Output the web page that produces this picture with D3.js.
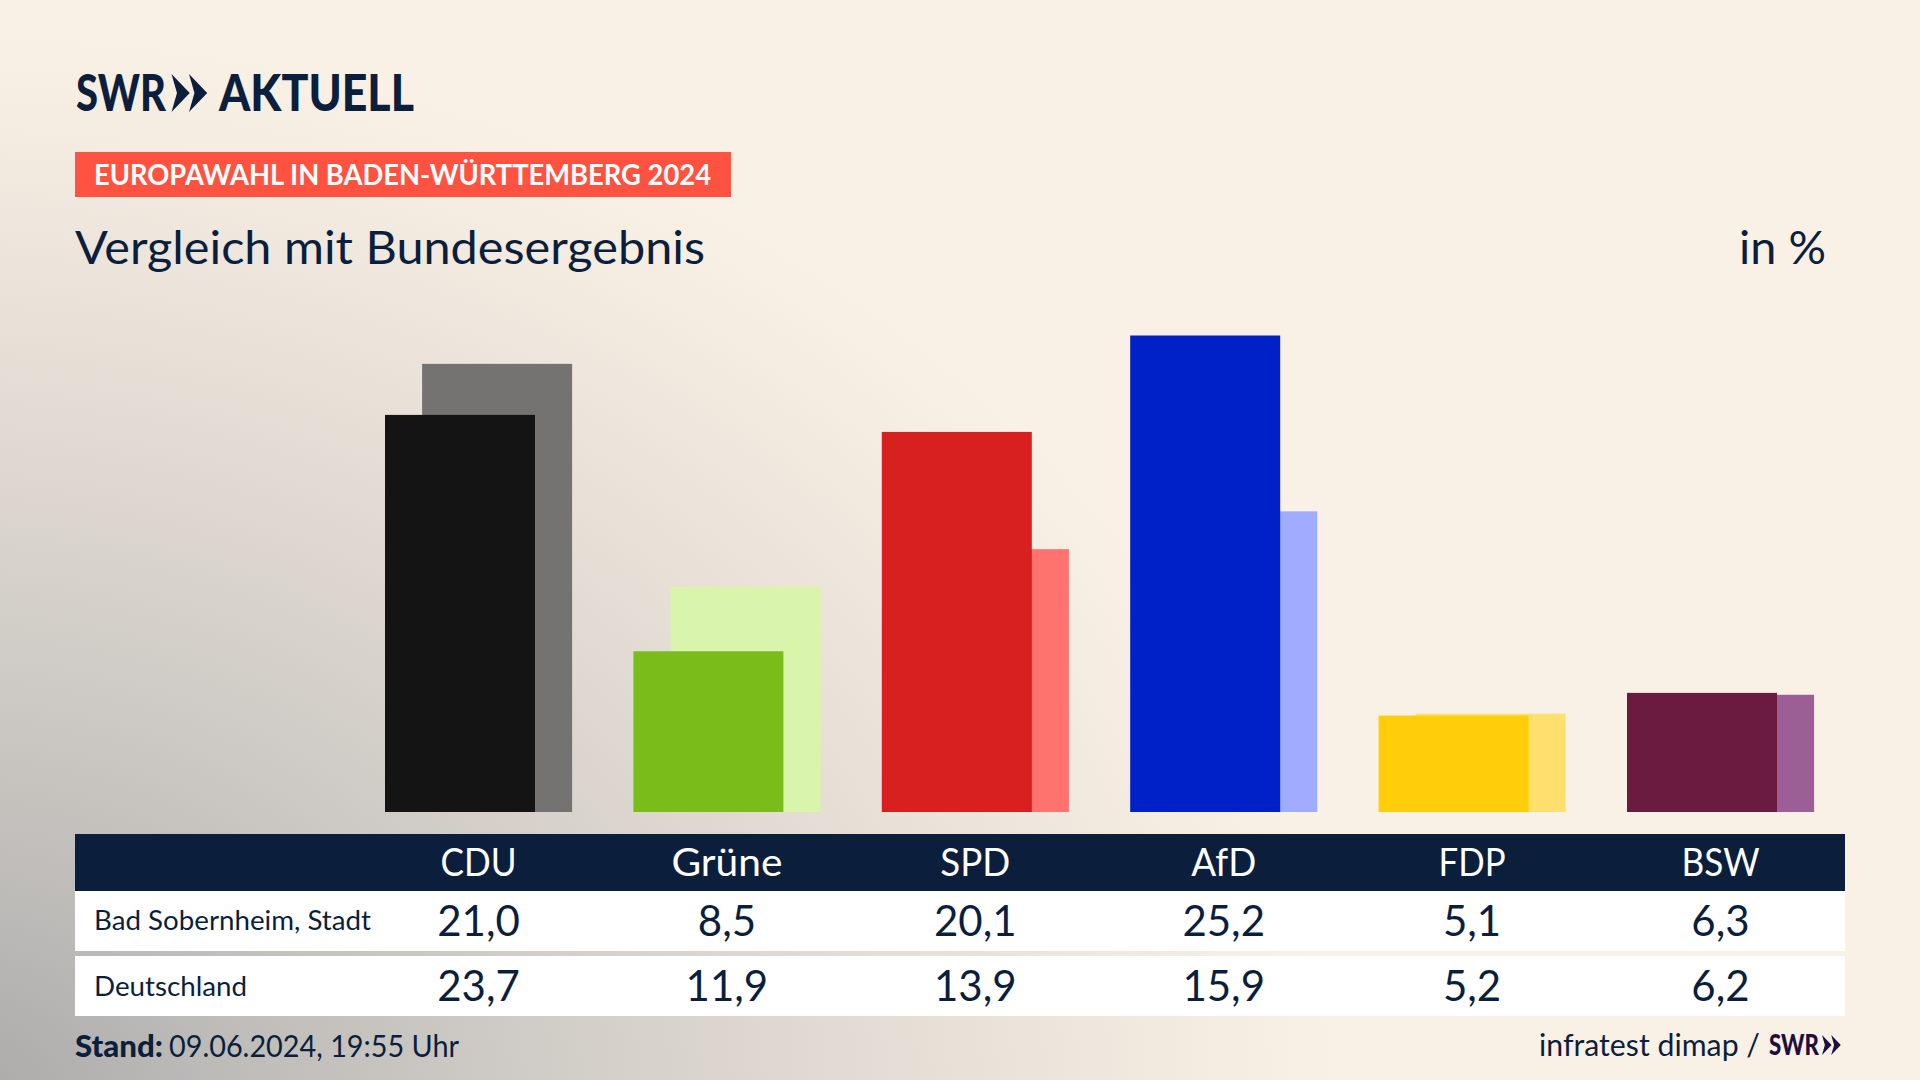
<!DOCTYPE html>
<html>
<head>
<meta charset="utf-8">
<title>Vergleich mit Bundesergebnis</title>
<script src="https://cdn.jsdelivr.net/npm/d3@7"></script>
<style>
	html, body { margin: 0; padding: 0; background: #faf1e6; }
	svg { display: block; }
	text { font-family: Lato, "Noto Sans", sans-serif; fill: #0b1f3d; }
</style>
</head>
<body>
<div id="chart"></div>
<script>
	var parties = ['CDU', 'Grüne', 'SPD', 'AfD', 'FDP', 'BSW'];
	var rowLabels = ['Bad Sobernheim, Stadt', 'Deutschland'];
	var localValues = [21.0, 8.5, 20.1, 25.2, 5.1, 6.3];
	var nationalValues = [23.7, 11.9, 13.9, 15.9, 5.2, 6.2];
	var darkColors = ['#141414', '#7abd1a', '#d8201e', '#0021c8', '#ffcd0a', '#6b1a40'];
	var lightColors = ['#757371', '#d8f5ab', '#ff736e', '#9facff', '#ffe06e', '#9b5f96'];
	var headerWidths = [76, 111, 70, 65, 67, 78];

	var navy = '#0b1f3d';
	var svg = d3.select('#chart').append('svg').attr('width', 1920).attr('height', 1080);

	// background
	var grad = svg.append('defs').append('radialGradient')
		.attr('id', 'bg')
		.attr('gradientUnits', 'userSpaceOnUse')
		.attr('cx', 0).attr('cy', 0).attr('r', 1)
		.attr('gradientTransform', 'translate(-60 1110) scale(1400 1080)');
	[[0, '#a8a8a8'], [0.2, '#bdbbb8'], [0.5, '#d6d1cb'], [0.72, '#e8e0d7'], [1, '#faf1e6']].forEach(function(s) {
		grad.append('stop').attr('offset', s[0]).attr('stop-color', s[1]);
	});
	svg.append('rect').attr('width', 1920).attr('height', 1080).attr('fill', 'url(#bg)');

	// scales
	var x = d3.scalePoint().domain(parties).range([478.5, 1720.5]);
	var y = d3.scaleLinear().domain([0, 25.2]).range([812, 335.5]);
	var barW = 150;
	var fmt = function(v) { return d3.format('.1f')(v).replace('.', ','); };

	function bars(values, colors, dx) {
		svg.append('g').selectAll('rect')
			.data(parties)
			.join('rect')
			.attr('x', function(d) { return x(d) + dx - barW / 2; })
			.attr('y', function(d, i) { return y(values[i]); })
			.attr('width', barW)
			.attr('height', function(d, i) { return y(0) - y(values[i]); })
			.attr('fill', function(d, i) { return colors[i]; });
	}
	bars(nationalValues, lightColors, 18.6);
	bars(localValues, darkColors, -18.5);

	// text helper, squeezes to the measured width of the house font
	function label(parent, str, px, py, size, opts) {
		opts = opts || {};
		var t = parent.append('text')
			.attr('x', px).attr('y', py)
			.attr('font-size', size)
			.attr('font-weight', opts.weight || 400)
			.attr('text-anchor', opts.anchor || 'start')
			.text(str);
		if (opts.fill) t.style('fill', opts.fill);
		if (opts.width) t.attr('textLength', opts.width).attr('lengthAdjust', 'spacingAndGlyphs');
		return t;
	}

	// logo arrows, two separate notched chevrons
	function chevrons(parent, px, py, h, color) {
		var w = h * 0.48;
		var notch = w * 0.3;
		[0, 1].forEach(function(i) {
			var x0 = px + i * (w - h * 0.02);
			parent.append('path')
				.attr('d', 'M' + x0 + ',' + py + 'L' + (x0 + w) + ',' + (py + h / 2) +
					'L' + x0 + ',' + (py + h) + 'L' + (x0 + notch) + ',' + (py + h / 2) + 'z')
				.attr('fill', color);
		});
	}

	// header
	label(svg, 'SWR', 76, 111, 51, { weight: 900, width: 90 });
	chevrons(svg, 171.5, 74, 38, navy);
	label(svg, 'AKTUELL', 219, 111, 51, { weight: 900, width: 195 });

	svg.append('rect').attr('x', 75).attr('y', 152).attr('width', 656).attr('height', 45).attr('fill', '#ff5240');
	label(svg, 'EUROPAWAHL IN BADEN-WÜRTTEMBERG 2024', 94, 185, 29, { weight: 700, fill: '#fff', width: 617 });
	label(svg, 'Vergleich mit Bundesergebnis', 75, 264, 47, { width: 630 });
	label(svg, 'in %', 1826, 264, 47, { anchor: 'end', width: 87 });

	// table
	var table = svg.append('g');
	table.append('rect').attr('x', 75).attr('y', 834).attr('width', 1770).attr('height', 57).attr('fill', navy);
	table.append('rect').attr('x', 75).attr('y', 891).attr('width', 1770).attr('height', 60).attr('fill', '#fff');
	table.append('rect').attr('x', 75).attr('y', 956).attr('width', 1770).attr('height', 60).attr('fill', '#fff');

	parties.forEach(function(p, i) {
		label(table, p, x(p), 875.5, 38, { anchor: 'middle', fill: '#fff', width: headerWidths[i] });
		label(table, fmt(localValues[i]), x(p), 935.5, 42, { anchor: 'middle' });
		label(table, fmt(nationalValues[i]), x(p), 1001, 42, { anchor: 'middle' });
	});
	label(table, rowLabels[0], 94, 929.5, 27, { width: 277 });
	label(table, rowLabels[1], 94, 995.5, 27, { width: 153 });

	// footer
	label(svg, 'Stand:', 75, 1057, 30, { weight: 900, width: 88 });
	label(svg, '09.06.2024, 19:55 Uhr', 169, 1057, 30, { width: 290 });
	label(svg, 'infratest dimap /', 1539, 1056, 30, { width: 221 });
	label(svg, 'SWR', 1769, 1055, 28, { weight: 900, width: 50, fill: '#1f0f3f' });
	chevrons(svg, 1822, 1035, 20, '#1f0f3f');
</script>
</body>
</html>
